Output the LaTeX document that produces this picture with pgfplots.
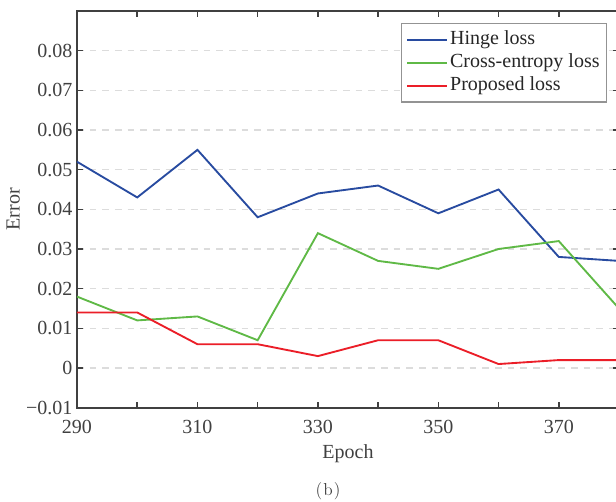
\documentclass[border=0pt]{standalone}
\usepackage{fontspec}
\newfontfamily\tnr{Liberation Serif}
\usepackage{pgfplots}
\pgfplotsset{compat=1.18}
\definecolor{cblue}{RGB}{40,75,160}
\definecolor{cgreen}{RGB}{95,185,70}
\definecolor{cred}{RGB}{235,30,40}
\definecolor{axgray}{RGB}{64,64,64}
\definecolor{gridgray}{RGB}{220,220,220}
\newcommand{\tfont}{\tnr\fontsize{15}{18}\selectfont}
\begin{document}
\begin{tikzpicture}
\begin{axis}[
  scale only axis, width=406.5pt, height=297.5pt,
  xmin=290, xmax=380, ymin=-0.01, ymax=0.09,
  xtick={290,300,310,320,330,340,350,360,370,380},
  xticklabels={290,,310,,330,,350,,370,},
  ytick={-0.01,0,0.01,0.02,0.03,0.04,0.05,0.06,0.07,0.08},
  yticklabels={−0.01,0,0.01,0.02,0.03,0.04,0.05,0.06,0.07,0.08},
  tick align=inside, major tick length=4.5pt,
  tick style={axgray, line width=1.1pt},
  axis line style={axgray, line width=1.3pt},
  ymajorgrids,
  grid style={gridgray, line width=1pt, dash pattern=on 5pt off 4.5pt},
  xticklabel style={font=\tfont, text=axgray, anchor=base, yshift=-19.5pt},
  yticklabel style={font=\tfont, text=axgray},
  xlabel={Epoch},
  xlabel style={font=\tfont, text=axgray, at={(axis description cs:0.5,-0.1276)}, anchor=base},
  ylabel={Error},
  ylabel style={font=\tfont, text=axgray, at={(axis description cs:-0.106,0.5)}, anchor=base},
  legend style={at={(1,1)}, anchor=north east, xshift=-9pt, yshift=-9pt,
    draw=gray!85, line width=1.1pt, inner sep=3.5pt, font=\tfont, text=black!85,
    cells={anchor=west}, row sep=0pt,
    nodes={inner xsep=1.5pt, inner ysep=1pt, text height=11pt, text depth=4.25pt}},
  legend image code/.code={\draw[#1] (0pt,0pt) -- (30pt,0pt);},
  legend cell align=left,
]
\addplot[cblue, line width=1.4pt] coordinates {
 (290,0.052) (300,0.043) (310,0.055) (320,0.038) (330,0.044)
 (340,0.046) (350,0.039) (360,0.045) (370,0.028) (380,0.027)};
\addlegendentry{Hinge loss}
\addplot[cgreen, line width=1.4pt] coordinates {
 (290,0.018) (300,0.012) (310,0.013) (320,0.007) (330,0.034)
 (340,0.027) (350,0.025) (360,0.030) (370,0.032) (380,0.015)};
\addlegendentry{Cross-entropy loss}
\addplot[cred, line width=1.4pt] coordinates {
 (290,0.014) (300,0.014) (310,0.006) (320,0.006) (330,0.003)
 (340,0.007) (350,0.007) (360,0.001) (370,0.002) (380,0.002)};
\addlegendentry{Proposed loss}
\end{axis}
\pgfresetboundingbox
\path[use as bounding box] (-57.75pt,-70pt) rectangle (404.25pt,305.75pt);
\node[anchor=base, font=\fontsize{13}{15}\selectfont, text=axgray] at (188.25pt,-65.5pt) {(\kern0.8pt b\kern0.8pt)};
\end{tikzpicture}
\end{document}
